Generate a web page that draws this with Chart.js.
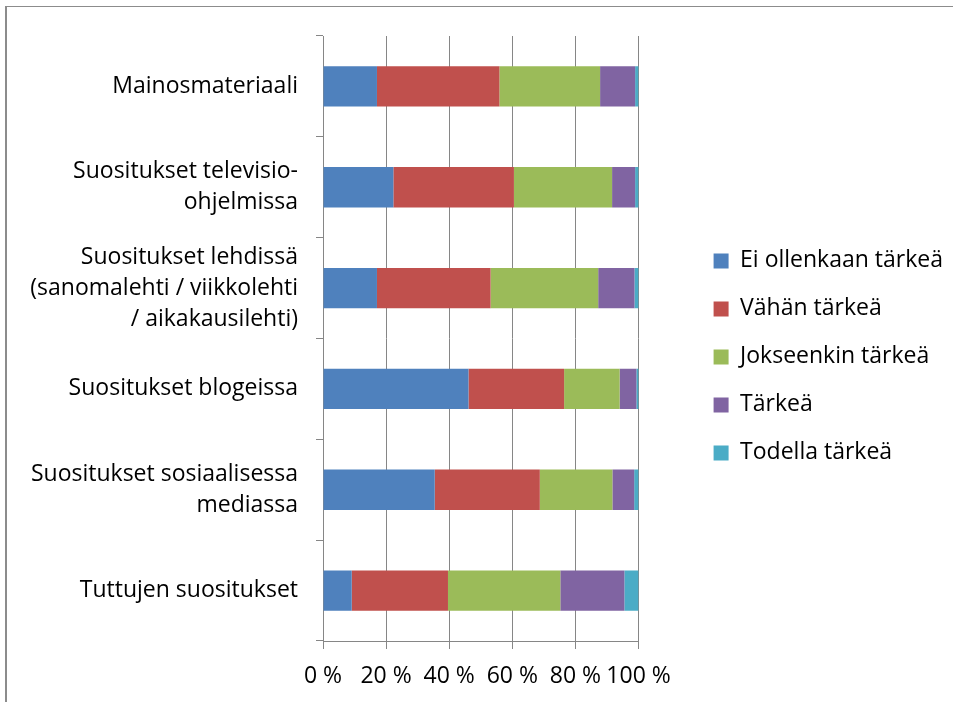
<!DOCTYPE html>
<html>
<head>
<meta charset="utf-8">
<script src="https://cdn.jsdelivr.net/npm/chart.js@4"></script>
<style>
  body { margin: 0; background: #fff; }
  #wrap { position: relative; width: 953px; height: 702px; overflow: hidden; }
  #frame { position: absolute; left: 5px; top: 6px; width: 1200px; height: 1200px;
           border-left: 2px solid #8c8c8c; border-top: 1px solid #8c8c8c; }
  #myChart { position: absolute; left: 0; top: 0; }
</style>
</head>
<body>
<div id="wrap">
  <div id="frame"></div>
  <canvas id="myChart" width="953" height="702"></canvas>
</div>
<script>
var categories = [
    "Mainosmateriaali",
    ["Suositukset televisio-", "ohjelmissa"],
    ["Suositukset lehdissä", "(sanomalehti / viikkolehti", "/ aikakausilehti)"],
    "Suositukset blogeissa",
    ["Suositukset sosiaalisessa", "mediassa"],
    "Tuttujen suositukset"
];
var seriesNames = ["Ei ollenkaan tärkeä", "Vähän tärkeä", "Jokseenkin tärkeä", "Tärkeä", "Todella tärkeä"];
var eiOllenkaan = [17.1, 22.3, 17.1, 46.1, 35.4, 9.1];
var vahan       = [38.8, 38.2, 36.0, 30.3, 33.3, 30.5];
var jokseenkin  = [31.9, 31.1, 34.1, 17.6, 23.0, 35.6];
var tarkea      = [11.1, 7.3, 11.5, 5.3, 6.9, 20.3];
var todella     = [1.1, 1.1, 1.3, 0.7, 1.4, 4.5];
var xTicks = [0, 20, 40, 60, 80, 100];

var colors = ['#4F81BD', '#C0504D', '#9BBB59', '#8064A2', '#4BACC6'];
var values = [eiOllenkaan, vahan, jokseenkin, tarkea, todella];
var gridColor = '#868686';
var font = 'Open Sans';

var ctx = document.getElementById('myChart').getContext('2d');
var chart = new Chart(ctx, {
    type: 'bar',
    data: {
        labels: categories,
        datasets: seriesNames.map(function(name, i){
            return {
                label: name,
                data: values[i],
                backgroundColor: colors[i],
                borderWidth: 0,
                barPercentage: 0.4,
                categoryPercentage: 1
            };
        })
    },
    options: {
        responsive: false,
        animation: false,
        indexAxis: 'y',
        layout: { padding: { top: 36, left: 0, right: 0, bottom: 0 } },
        scales: {
            x: {
                stacked: true,
                min: 0,
                max: 100,
                afterBuildTicks: function(s){
                    s.ticks = xTicks.map(function(v){ return {value: v}; });
                },
                afterFit: function(s){ s.height = 61; },
                grid: { color: gridColor, tickLength: 8, lineWidth: 1 },
                border: { color: gridColor },
                ticks: {
                    color: '#000',
                    padding: 14,
                    autoSkip: false,
                    maxRotation: 0,
                    font: { family: font, size: 23 },
                    callback: function(v){ return v + ' %'; }
                }
            },
            y: {
                stacked: true,
                afterFit: function(s){ s.width = 323; },
                grid: { color: gridColor, drawOnChartArea: false, tickLength: 7, offset: true },
                border: { color: gridColor },
                ticks: {
                    color: '#000',
                    padding: 18,
                    font: { family: font, size: 23, lineHeight: 1.35 }
                }
            },
            pad: {
                type: 'linear',
                position: 'right',
                display: true,
                afterFit: function(s){ s.width = 50; },
                grid: { display: false },
                border: { display: false },
                ticks: { display: false }
            }
        },
        plugins: {
            legend: {
                position: 'right',
                align: 'start',
                maxWidth: 400,
                title: { display: true, text: '', padding: { top: 174, bottom: 0 } },
                labels: {
                    color: '#000',
                    boxWidth: 15,
                    boxHeight: 15,
                    padding: 25,
                    font: { family: font, size: 23 }
                }
            },
            tooltip: { enabled: false }
        }
    }
});
</script>
</body>
</html>
